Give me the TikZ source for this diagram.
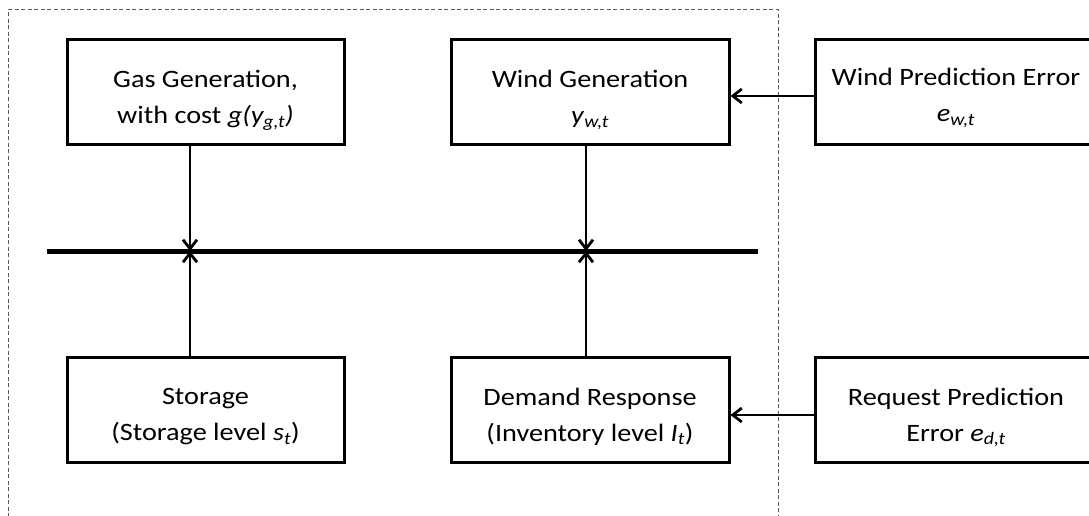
\documentclass[tikz,border=0pt]{standalone}
\usepackage{fontspec}
\setmainfont{Carlito}[FakeStretch=1.13]
\usetikzlibrary{arrows.meta,calc}
\newcommand{\sbt}[1]{\textsubscript{\itshape #1}}
\begin{document}
\begin{tikzpicture}[x=1pt,y=-1pt,
  box/.style={draw, line width=3pt, minimum width=277pt, minimum height=104pt, inner sep=0pt},
  lbl/.style={align=center, font=\fontsize{25}{36}\selectfont, inner sep=0pt},
  conn/.style={line width=2.8pt, -{Straight Barb[length=9pt,width=14pt]}},
  bus/.style={line width=5pt},
  frame/.style={draw=black!65, line width=1pt, dash pattern=on 4pt off 2.5pt}]
\useasboundingbox (0,0) rectangle (1089,516);
\clip (0,0) rectangle (1089,516);
\fill[white] (0,0) rectangle (1089,516);
% dashed frame
\draw[frame] (8.5,530) -- (8.5,10) -- (778,10) -- (778,530);
% boxes
\node[box] (gas) at (205.5,92) {};
\node[box, minimum width=278pt] (wind) at (590,92) {};
\node[box, minimum width=282pt] (wpe) at (956,92) {};
\node[box, minimum height=105pt] (sto) at (205.5,409.5) {};
\node[box, minimum width=278pt, minimum height=105pt] (dem) at (590,409.5) {};
\node[box, minimum width=282pt, minimum height=105pt] (req) at (956,409.5) {};
% labels
\node[lbl] (tgas) at ($(gas.center)+(0,8)$) {Gas Generation,\\with cost \textit{g(y\sbt{g,t})}};
\node[lbl] (twind) at ($(wind.center)+(0,8)$) {Wind Generation\\\textit{y}\sbt{w,t}};
\node[lbl] (twpe) at ($(wpe.center)+(0,6)$) {Wind Prediction Error\\\textit{e}\sbt{w,t}};
\node[lbl] (tsto) at ($(sto.center)+(0,7)$) {Storage\\(Storage level \textit{s}\sbt{t})};
\node[lbl] (tdem) at ($(dem.center)+(0,7)$) {Demand Response\\(Inventory level \textit{I}\sbt{t})};
\node[lbl] (treq) at ($(req.center)+(0,8)$) {Request Prediction\\Error \textit{e}\sbt{d,t}};
% bus
\coordinate (bl) at (47,251);
\coordinate (br) at (758,251);
\coordinate (j1) at (190,251);
\coordinate (j2) at (586,251);
\draw[bus] (bl) -- (br);
% connectors
\draw[conn] (gas.south -| j1) -- (j1);
\draw[conn] (wind.south -| j2) -- (j2);
\draw[conn] (sto.north -| j1) -- (j1);
\draw[conn] (dem.north -| j2) -- (j2);
\draw[conn] ($(wpe.west)+(0,4)$) -- ($(wind.east)+(0,4)$);
\draw[conn] ($(req.west)+(0,5.5)$) -- ($(dem.east)+(0,5.5)$);
\end{tikzpicture}
\end{document}
